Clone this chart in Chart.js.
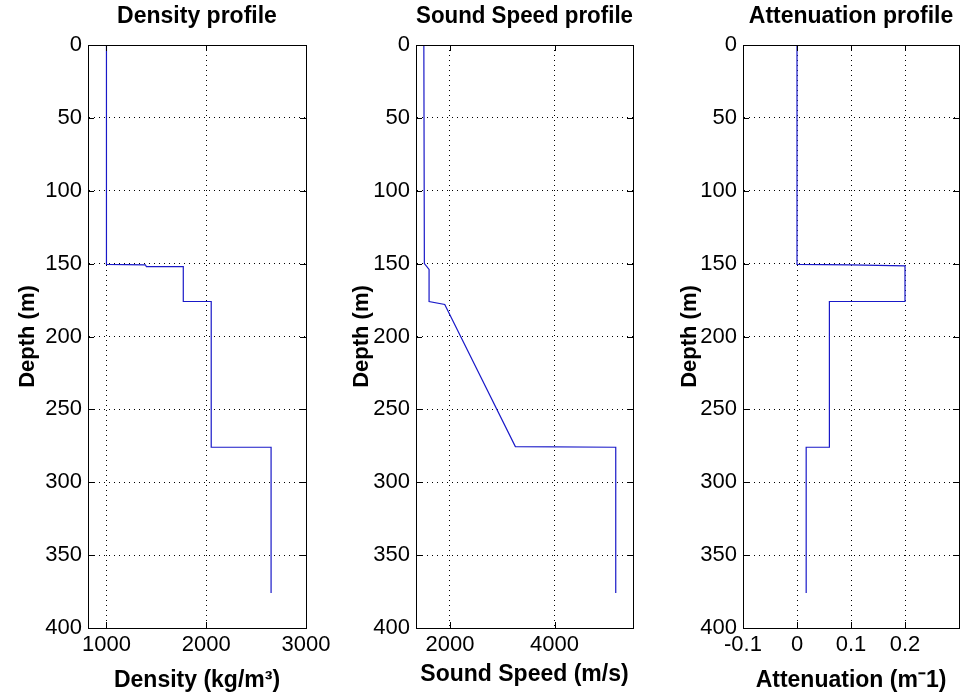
<!DOCTYPE html>
<html>
<head>
<meta charset="utf-8">
<script src="https://cdn.jsdelivr.net/npm/chart.js@4.4.0/dist/chart.umd.min.js"></script>
<style>
  body { margin: 0; background: #fff; width: 963px; height: 698px; overflow: hidden; position: relative; }
  canvas { position: absolute; top: 0; }
</style>
</head>
<body>
<canvas id="density" width="330" height="698" style="left:0px"></canvas>
<canvas id="speed" width="306" height="698" style="left:330px"></canvas>
<canvas id="atten" width="327" height="698" style="left:636px"></canvas>
<script>
// depth axis (m), shared by the three panels
const depthTicks = [0, 50, 100, 150, 200, 250, 300, 350, 400];

// density profile (kg/m^3)
const densityDepth = [0, 150.5, 150.8, 152, 152, 176, 176, 276, 276, 376];
const densityValue = [1000, 1000, 1390, 1400, 1770, 1770, 2050, 2050, 2650, 2650];
const densityTicks = [1000, 2000, 3000];

// sound speed profile (m/s)
const speedDepth = [0, 150, 154, 176, 178, 275.5, 276, 376];
const speedValue = [1500, 1510, 1600, 1600, 1900, 3250, 5170, 5170];
const speedTicks = [2000, 4000];

// attenuation profile (m^-1)
const attenDepth = [0, 150.5, 150.8, 151.5, 176, 176, 276, 276, 376];
const attenValue = [0, 0, 0.1, 0.2, 0.2, 0.06, 0.06, 0.017, 0.017];
const attenTicks = [-0.1, 0, 0.1, 0.2];

Chart.defaults.font.family = '"Liberation Sans", Arial, Helvetica, sans-serif';
Chart.defaults.color = '#000';

// full box around the axes plus short inward tick marks
const boxPlugin = {
  id: 'box',
  afterDraw(chart) {
    const { ctx, chartArea: a, scales: { x, y } } = chart;
    const len = 6;
    ctx.save();
    ctx.strokeStyle = '#000';
    ctx.lineWidth = 1;
    ctx.beginPath();
    x.ticks.forEach(t => {
      const px = Math.round(x.getPixelForValue(t.value)) + 0.5;
      ctx.moveTo(px, a.bottom); ctx.lineTo(px, a.bottom - len);
      ctx.moveTo(px, a.top); ctx.lineTo(px, a.top + len);
    });
    y.ticks.forEach(t => {
      const py = Math.round(y.getPixelForValue(t.value)) + 0.5;
      ctx.moveTo(a.left, py); ctx.lineTo(a.left + len, py);
      ctx.moveTo(a.right, py); ctx.lineTo(a.right - len, py);
    });
    ctx.stroke();
    ctx.strokeRect(Math.round(a.left) + 0.5, Math.round(a.top) + 0.5,
                   Math.round(a.width), Math.round(a.height));
    ctx.restore();
  }
};

function profile(id, opt) {
  const points = opt.depth.map((d, i) => ({ x: opt.values[i], y: d }));
  return new Chart(document.getElementById(id), {
    type: 'scatter',
    data: {
      datasets: [{
        data: points,
        showLine: true,
        borderColor: 'rgb(25, 25, 200)',
        borderWidth: 1.2,
        pointRadius: 0,
        tension: 0
      }]
    },
    options: {
      responsive: false,
      animation: false,
      layout: { padding: { left: 0, right: opt.padRight, top: 0, bottom: 0 } },
      plugins: {
        legend: { display: false },
        tooltip: { enabled: false },
        title: {
          display: true,
          text: opt.title,
          fullSize: false,
          color: '#000',
          font: { size: 23, weight: 'bold', lineHeight: 1 },
          padding: { top: 5, bottom: 17 }
        }
      },
      scales: {
        x: {
          type: 'linear',
          position: 'bottom',
          min: opt.min,
          max: opt.max,
          afterBuildTicks: s => { s.ticks = opt.ticks.map(v => ({ value: v })); },
          afterFit: s => { s.height = 70; s.paddingLeft = 0; s.paddingRight = 0; },
          grid: { color: '#000', lineWidth: 1, drawTicks: false },
          border: { color: '#000', dash: [1, 4] },
          ticks: { padding: 4, font: { size: 22 }, maxRotation: 0, autoSkip: false,
                   callback: v => String(v) },
          title: { display: true, text: opt.xLabel,
                   font: { size: 23, weight: 'bold' },
                   padding: { top: 0, bottom: opt.xTitlePad } }
        },
        y: {
          type: 'linear',
          reverse: true,
          min: 0,
          max: 400,
          afterBuildTicks: s => { s.ticks = depthTicks.map(v => ({ value: v })); },
          afterFit: s => { s.width = opt.yWidth; s.paddingTop = 0; s.paddingBottom = 0; },
          grid: { color: '#000', lineWidth: 1, drawTicks: false },
          border: { color: '#000', dash: [1, 4] },
          ticks: { padding: 6, font: { size: 22 }, autoSkip: false,
                   callback: v => String(v) },
          title: { display: true, text: 'Depth (m)',
                   font: { size: 22, weight: 'bold' },
                   padding: { top: opt.yTitlePad, bottom: 0 } }
        }
      }
    },
    plugins: [boxPlugin]
  });
}

profile('density', {
  title: 'Density profile', xLabel: 'Density (kg/m³)',
  depth: densityDepth, values: densityValue, ticks: densityTicks,
  min: 815, max: 3000, yWidth: 88, padRight: 24, yTitlePad: 15, xTitlePad: 4
});

profile('speed', {
  title: 'Sound Speed profile', xLabel: 'Sound Speed (m/s)',
  depth: speedDepth, values: speedValue, ticks: speedTicks,
  min: 1350, max: 5500, yWidth: 86, padRight: 3, yTitlePad: 19, xTitlePad: 10
});

profile('atten', {
  title: 'Attenuation profile', xLabel: 'Attenuation (m⁻1)',
  depth: attenDepth, values: attenValue, ticks: attenTicks,
  min: -0.1, max: 0.3, yWidth: 107, padRight: 4, yTitlePad: 41, xTitlePad: 4
});
</script>
</body>
</html>
